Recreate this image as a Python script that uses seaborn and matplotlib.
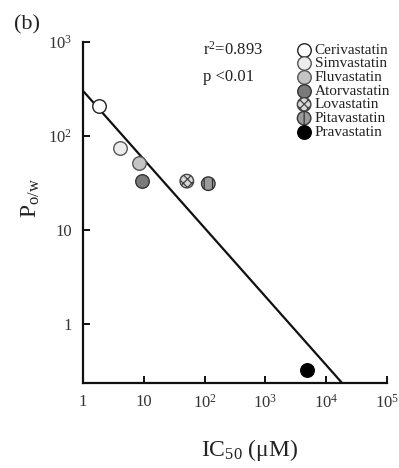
import matplotlib
matplotlib.use("Agg")
import matplotlib.pyplot as plt
import numpy as np
import pandas as pd
import seaborn as sns

# ---------------- data ----------------
drugs = ["Cerivastatin", "Simvastatin", "Fluvastatin", "Atorvastatin",
         "Lovastatin", "Pitavastatin", "Pravastatin"]
ic50_uM = [1.85, 4.1, 8.2, 9.2, 51, 115, 4800]
p_ow = [209, 75, 52, 33, 33, 31, 0.32]
fit_intercept = 2.48   # log10(P) at IC50 = 1
fit_slope = -0.73      # d log10(P) / d log10(IC50)
r2_text = "r$^{2}$=0.893"
p_text = "p <0.01"
x_ticks = [1, 10, 100, 1000, 10000, 100000]
x_ticklabels = ["1", "10", "10$^{2}$", "10$^{3}$", "10$^{4}$", "10$^{5}$"]
y_ticks = [1, 10, 100, 1000]
y_ticklabels = ["1", "10", "10$^{2}$", "10$^{3}$"]

# ---------------- styles ----------------
face = ["#ffffff", "#ececec", "#c4c4c4", "#7a7a7a", "#d8d8d8", "#9a9a9a", "#000000"]
edge = ["#222222", "#555555", "#555555", "#333333", "#444444", "#333333", "#000000"]
hatches = [None, None, None, None, "xxxx", "||", None]

sns.set_theme(style="ticks")
plt.rcParams["font.family"] = ["Liberation Serif", "DejaVu Serif"]
plt.rcParams["mathtext.fontset"] = "custom"
plt.rcParams["mathtext.rm"] = "Liberation Serif"
plt.rcParams["mathtext.it"] = "Liberation Serif:italic"
plt.rcParams["mathtext.bf"] = "Liberation Serif:bold"
plt.rcParams["hatch.linewidth"] = 0.9

W, H = 399, 468
fig = plt.figure(figsize=(W / 100, H / 100), dpi=100)
ax = fig.add_axes([83 / W, 1 - 383 / H, (387 - 83) / W, (383 - 42) / H])

# regression line
line_x = np.array([1.0, 1e5])
line_y = 10 ** (fit_intercept + fit_slope * np.log10(line_x))
sns.lineplot(x=line_x, y=line_y, ax=ax, color="#111111", linewidth=1.6, zorder=2)

# points
for i, name in enumerate(drugs):
    sns.scatterplot(x=[ic50_uM[i]], y=[p_ow[i]], ax=ax, s=95,
                    color=face[i], edgecolor=edge[i], linewidth=1.0,
                    label=name, zorder=3)
    if hatches[i]:
        ax.collections[-1].set_hatch(hatches[i])

ax.set_xscale("log")
ax.set_yscale("log")
ax.set_xlim(1, 1e5)
ax.set_ylim(0.234, 1000)
ax.set_xticks(x_ticks)
ax.set_xticklabels(x_ticklabels)
ax.set_yticks(y_ticks)
ax.set_yticklabels(y_ticklabels)
ax.minorticks_off()
ax.tick_params(direction="in", length=5, width=1.4, labelsize=12,
               labelcolor="#333333", pad=8, color="#111111")
for sp in ["top", "right"]:
    ax.spines[sp].set_visible(False)
for sp in ["left", "bottom"]:
    ax.spines[sp].set_linewidth(1.6)
    ax.spines[sp].set_color("#111111")
ax.set_xlabel("")
ax.set_ylabel("")

leg = ax.legend(loc="upper left", bbox_to_anchor=(298 / W, 1 - 43 / H),
                bbox_transform=fig.transFigure, frameon=False, fontsize=11,
                labelspacing=0.0, handletextpad=0.3, handlelength=0.8,
                borderpad=0, borderaxespad=0)
for t in leg.get_texts():
    t.set_color("#222222")

fig.text(203 / W, 1 - 50 / H, r2_text, fontsize=12, ha="left", va="center", color="#222222")
fig.text(203 / W, 1 - 77 / H, p_text, fontsize=12, ha="left", va="center", color="#222222")

fig.text(27 / W, 1 - 25 / H, "(b)", fontsize=16, ha="center", va="center", color="#222222")
fig.text(31 / W, 1 - 198 / H, r"P$_{\mathrm{o/w}}$", fontsize=17, rotation=90,
         ha="center", va="center", color="#222222")
fig.text(250 / W, 1 - 450 / H, r"IC$_{\mathrm{50}}$ (μM)", fontsize=17,
         ha="center", va="center", color="#222222")

fig.savefig("out.png", dpi=100)
